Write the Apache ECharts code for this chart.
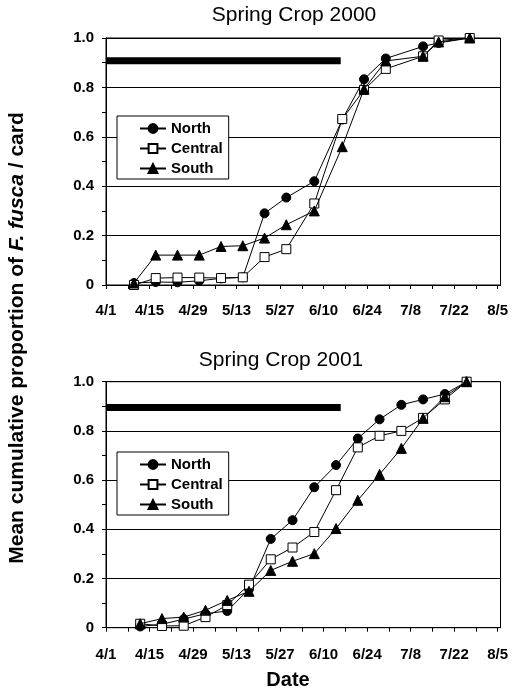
<!DOCTYPE html>
<html><head><meta charset="utf-8">
<script src="https://cdn.jsdelivr.net/npm/echarts@6/dist/echarts.min.js"></script>
<style>html,body{margin:0;padding:0;background:#fff}#c{width:516px;height:695px}</style>
</head><body><div id="c"></div>
<script>
// ---- data ----
const seriesNames = ['North', 'Central', 'South'];
const dates2000 = ['4/10','4/17','4/24','5/1','5/8','5/15','5/22','5/29','6/7','6/16','6/23','6/30','7/12','7/17','7/27'];
const north2000   = [0.008,0.012,0.011,0.017,0.027,0.031,0.29,0.354,0.42,0.67,0.833,0.917,0.966,0.98,1.0];
const central2000 = [0.0,0.028,0.03,0.03,0.028,0.031,0.113,0.145,0.33,0.672,0.79,0.875,0.926,0.99,1.0];
const south2000   = [0.008,0.121,0.121,0.121,0.156,0.159,0.19,0.244,0.30,0.56,0.793,0.907,0.926,0.984,1.0];
const dates2001 = ['4/12','4/19','4/26','5/3','5/10','5/17','5/24','5/31','6/7','6/14','6/21','6/28','7/5','7/12','7/19','7/26'];
const north2001   = [0.005,0.014,0.035,0.057,0.068,0.157,0.361,0.437,0.571,0.661,0.769,0.847,0.906,0.928,0.95,1.0];
const central2001 = [0.016,0.007,0.008,0.043,0.092,0.175,0.278,0.326,0.389,0.559,0.733,0.78,0.80,0.853,0.928,1.0];
const south2001   = [0.016,0.037,0.043,0.071,0.111,0.148,0.233,0.27,0.301,0.403,0.518,0.623,0.729,0.851,0.939,1.0];
// thick reference bar: [start day offset from 4/1, end day offset, level]
const bar2000 = [0, 75.5, 0.908];
const bar2001 = [0, 75.5, 0.895];
const xTickLabels = ['4/1','4/15','4/29','5/13','5/27','6/10','6/24','7/8','7/22','8/5'];
const xMinorTicks = ['4/1','4/8','4/15','4/22','4/29','5/6','5/13','5/20','5/27','6/3','6/10','6/17','6/24','7/1','7/8','7/15','7/22','7/29','8/5'];

// ---- helpers ----
const monthOffset = {4:0,5:30,6:61,7:91,8:122};
function dayOf(s){ const p=s.split('/').map(Number); return monthOffset[p[0]] + p[1] - 1; }
const labelByDay = {}; xTickLabels.forEach(s => labelByDay[dayOf(s)] = s);
const FONT = '"Liberation Sans", Arial, sans-serif';

function pairs(dates, vals){ return dates.map((d,i)=>[dayOf(d), vals[i]]); }

const symbols = {
  North:   {symbol:'circle', symbolSize:9, itemStyle:{color:'#000', borderColor:'#000', borderWidth:1}},
  Central: {symbol:'rect', symbolSize:9, itemStyle:{color:'#fff', borderColor:'#000', borderWidth:1}},
  South:   {symbol:'triangle', symbolSize:10, itemStyle:{color:'#000', borderColor:'#000', borderWidth:1}}
};

function mkSeries(idx, dates, arrs, bar){
  const out = [{
    type:'line', name:'bar'+idx, xAxisIndex:idx, yAxisIndex:idx, silent:true,
    symbol:'none', data:[[bar[0], bar[2]],[bar[1], bar[2]]],
    lineStyle:{color:'#000', width:7, cap:'butt'}, z:1
  }];
  seriesNames.forEach((n,k)=>{
    out.push(Object.assign({
      type:'line', name:n, xAxisIndex:idx, yAxisIndex:idx,
      data:pairs(dates, arrs[k]),
      lineStyle:{color:'#000', width:1}, z:3+k
    }, symbols[n]));
  });
  return out;
}

const grids = [
  {left:106, top:38, width:394.5, height:247},
  {left:106, top:381.7, width:394.5, height:246}
];

function mkX(idx, margin){
  return {
    type:'value', gridIndex:idx, min:0, max:126.9,
    axisLine:{show:true, lineStyle:{color:'#000', width:1}},
    axisTick:{show:true, length:4, lineStyle:{color:'#000'}, customValues:xMinorTicks.map(dayOf)},
    axisLabel:{customValues:xTickLabels.map(dayOf), formatter:v=>labelByDay[Math.round(v)]||'',
      color:'#000', fontFamily:FONT, fontWeight:'bold', fontSize:15, margin:margin},
    splitLine:{show:false}
  };
}
function mkY(idx){
  return {
    type:'value', gridIndex:idx, min:0, max:1, interval:0.2,
    axisLine:{show:true, lineStyle:{color:'#000', width:1}},
    axisTick:{show:true, length:4, lineStyle:{color:'#000'}},
    minorTick:{show:true, splitNumber:2, length:4, lineStyle:{color:'#000'}},
    axisLabel:{color:'#000', fontFamily:FONT, fontWeight:'bold', fontSize:15, margin:12,
      formatter:v=> v===0 ? '0' : v.toFixed(1)},
    splitLine:{show:true, lineStyle:{color:'#000', width:1}}
  };
}
function mkLegend(top){
  return {
    data:seriesNames, orient:'vertical', left:117, top:top,
    backgroundColor:'#fff', borderColor:'#000', borderWidth:1,
    padding:[4,6,2,22], itemGap:3, itemWidth:26, itemHeight:11,
    textStyle:{color:'#000', fontFamily:FONT, fontWeight:'bold', fontSize:15, lineHeight:17},
    selectedMode:false
  };
}

const chart = echarts.init(document.getElementById('c'), null, {renderer:'canvas'});
chart.setOption({
  animation:false,
  backgroundColor:'#fff',
  grid:grids.map(g=>Object.assign({show:true, borderColor:'#000', borderWidth:1, backgroundColor:'transparent'}, g)),
  xAxis:[mkX(0,18), mkX(1,20)],
  yAxis:[mkY(0), mkY(1)],
  legend:[mkLegend(116), mkLegend(452)],
  series:[].concat(
    mkSeries(0, dates2000, [north2000, central2000, south2000], bar2000),
    mkSeries(1, dates2001, [north2001, central2001, south2001], bar2001)
  ),
  graphic:[
    {type:'text', x:294, y:15, style:{text:'Spring Crop 2000', fill:'#000', font:'21px '+FONT, textAlign:'center', textVerticalAlign:'middle'}},
    {type:'text', x:281, y:360, style:{text:'Spring Crop 2001', fill:'#000', font:'21px '+FONT, textAlign:'center', textVerticalAlign:'middle'}},
    {type:'text', x:288, y:680, style:{text:'Date', fill:'#000', font:'bold 20px '+FONT, textAlign:'center', textVerticalAlign:'middle'}},
    {type:'text', x:17, y:338, rotation:Math.PI/2, style:{
      text:'{b|Mean cumulative proportion of }{i|F. fusca}{b| / card}',
      textAlign:'center', textVerticalAlign:'middle',
      rich:{
        b:{fill:'#000', fontFamily:FONT, fontWeight:'bold', fontSize:21},
        i:{fill:'#000', fontFamily:FONT, fontWeight:'bold', fontStyle:'italic', fontSize:21}
      }
    }}
  ]
});
</script>
</body></html>
